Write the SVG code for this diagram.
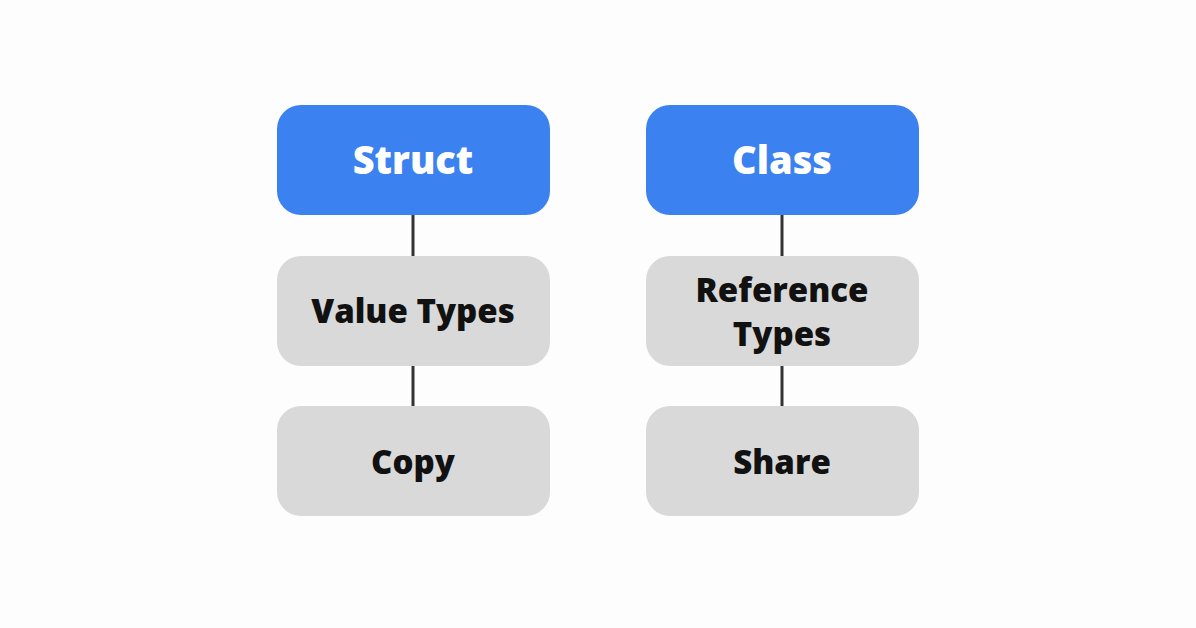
<svg xmlns="http://www.w3.org/2000/svg" width="1196" height="628" viewBox="0 0 1196 628">
<style>
.h{fill:#3b82f0}
.g{fill:#d9d9d9}
.ht{fill:#fff;font-family:"Open Sans","DejaVu Sans",sans-serif;font-weight:800;font-size:38px;text-anchor:middle}
.gt{fill:#111;font-family:"Open Sans","DejaVu Sans",sans-serif;font-weight:800;font-size:33px;text-anchor:middle}
.c{stroke:#333;stroke-width:3}
</style>
<rect width="1196" height="628" fill="#fdfdfd"/>
<g id="connectors">
<line class="c" x1="413" y1="215" x2="413" y2="256"/>
<line class="c" x1="413" y1="366" x2="413" y2="406"/>
<line class="c" x1="782" y1="215" x2="782" y2="256"/>
<line class="c" x1="782" y1="366" x2="782" y2="406"/>
</g>
<g id="struct"><rect class="h" x="277" y="105" width="273" height="110" rx="24"/><text class="ht" x="413" y="174">Struct</text></g>
<g id="value-types"><rect class="g" x="277" y="256" width="273" height="110" rx="24"/><text class="gt" x="413" y="323">Value Types</text></g>
<g id="copy"><rect class="g" x="277" y="406" width="273" height="110" rx="24"/><text class="gt" x="413" y="474">Copy</text></g>
<g id="class"><rect class="h" x="646" y="105" width="273" height="110" rx="24"/><text class="ht" x="782" y="174">Class</text></g>
<g id="reference-types"><rect class="g" x="646" y="256" width="273" height="110" rx="24"/><text class="gt" x="782" y="302">Reference</text><text class="gt" x="782" y="346">Types</text></g>
<g id="share"><rect class="g" x="646" y="406" width="273" height="110" rx="24"/><text class="gt" x="782" y="474">Share</text></g>
</svg>
